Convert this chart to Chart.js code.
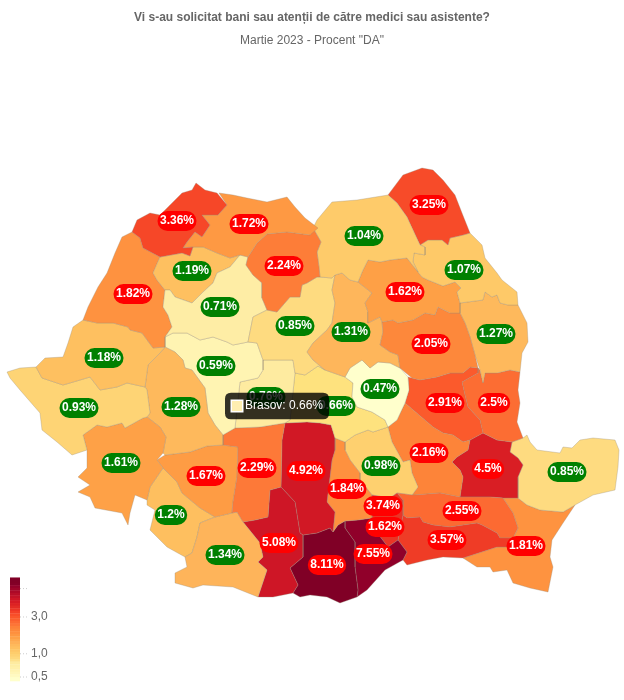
<!DOCTYPE html>
<html>
<head>
<meta charset="utf-8">
<title>Mita medicala</title>
<script src="https://cdn.jsdelivr.net/npm/chart.js@4/dist/chart.umd.min.js"></script>
<style>
  html, body { margin: 0; padding: 0; background: #fff; }
  canvas { display: block; }
</style>
</head>
<body>
<canvas id="harta" width="624" height="700"></canvas>
<script>
// County outlines, in picture units (x, y)
const outlineSatuMare = [[196,183],[205,190],[217,193],[227,205],[218,215],[202,215],[210,225],[202,237],[195,232],[187,242],[183,248],[193,247],[190,256],[182,253],[160,257],[143,248],[140,238],[132,232],[137,220],[150,213],[160,215],[170,205],[182,193],[192,190]];
const outlineMaramures = [[219,193],[233,195],[247,198],[267,202],[287,197],[295,207],[305,218],[318,228],[310,235],[287,232],[267,234],[257,243],[248,257],[240,255],[230,258],[217,253],[203,247],[193,247],[183,248],[187,242],[195,232],[202,237],[210,225],[202,215],[218,215],[227,205]];
const outlineBistrita = [[267,234],[287,232],[310,235],[313,228],[321,242],[317,252],[319,267],[320,277],[317,277],[307,283],[302,285],[300,297],[290,297],[277,312],[267,310],[262,298],[262,283],[253,275],[246,265],[248,257],[257,243]];
const outlineSuceava = [[317,220],[332,202],[357,200],[388,195],[397,203],[407,217],[413,230],[420,245],[425,247],[425,255],[414,253],[413,262],[418,272],[407,258],[390,260],[380,262],[368,260],[363,270],[358,282],[350,280],[342,273],[335,275],[332,278],[320,277],[319,267],[317,252],[321,242],[313,228]];
const outlineBotosani = [[388,195],[403,175],[422,168],[433,170],[443,180],[455,195],[462,213],[470,233],[463,235],[450,238],[448,245],[442,240],[428,240],[420,245],[413,230],[407,217],[397,203]];
const outlineIasi = [[470,233],[482,245],[485,258],[497,273],[502,280],[517,292],[518,305],[508,305],[500,303],[497,295],[492,297],[485,292],[483,300],[460,303],[457,292],[461,288],[455,282],[443,286],[428,280],[422,277],[418,272],[413,262],[414,253],[425,255],[425,247],[420,245],[428,240],[442,240],[448,245],[450,238],[463,235]];
const outlineNeamt = [[368,260],[380,262],[390,260],[407,258],[418,272],[422,277],[428,280],[443,286],[455,282],[461,288],[457,292],[460,303],[460,313],[450,313],[438,307],[435,315],[425,313],[413,320],[398,323],[393,320],[382,322],[380,317],[368,323],[368,312],[365,303],[372,293],[358,282],[363,270]];
const outlineBacau = [[382,322],[393,320],[398,323],[413,320],[425,313],[435,315],[438,307],[450,313],[460,313],[465,323],[470,337],[475,355],[478,368],[470,367],[463,373],[450,373],[437,377],[420,380],[412,378],[400,368],[398,355],[390,352],[380,345],[383,332]];
const outlineVaslui = [[460,303],[483,300],[485,292],[492,297],[497,295],[500,303],[508,305],[518,305],[527,323],[528,342],[522,353],[520,372],[510,370],[497,373],[485,373],[483,383],[480,370],[475,355],[470,337],[465,323],[460,313]];
const outlineHarghita = [[358,282],[372,293],[365,303],[368,312],[368,323],[380,317],[382,322],[383,332],[380,345],[390,352],[398,355],[400,368],[390,363],[378,362],[370,368],[362,360],[350,368],[345,377],[325,370],[313,360],[307,352],[313,343],[327,330],[332,323],[335,303],[332,290],[335,275],[342,273],[350,280]];
const outlineCovasna = [[362,360],[370,368],[378,362],[390,363],[400,368],[408,377],[409,390],[405,403],[397,420],[388,427],[385,420],[372,412],[357,407],[352,397],[353,383],[345,377],[350,368]];
const outlineBrasov = [[295,373],[305,375],[318,366],[325,370],[345,377],[353,383],[352,397],[357,407],[372,412],[385,420],[388,427],[373,432],[368,430],[355,435],[345,442],[335,438],[331,425],[320,423],[307,422],[285,423],[290,420],[293,392]];
const outlineMures = [[267,310],[277,312],[290,297],[300,297],[302,285],[307,283],[317,277],[320,277],[332,278],[335,275],[332,290],[335,303],[332,323],[327,330],[313,343],[307,352],[313,360],[325,370],[318,366],[305,375],[295,373],[293,360],[285,360],[270,360],[263,360],[257,343],[248,342],[253,317],[263,312]];
const outlineCluj = [[165,290],[170,290],[175,297],[192,303],[203,292],[213,283],[217,273],[230,267],[240,255],[248,257],[246,265],[253,275],[262,283],[262,298],[267,310],[263,312],[253,317],[248,342],[233,345],[227,342],[213,337],[200,340],[187,333],[173,333],[165,337],[172,327],[168,315],[163,307]];
const outlineSalaj = [[153,273],[160,257],[182,253],[190,256],[193,247],[203,247],[217,253],[230,258],[240,255],[230,267],[217,273],[213,283],[203,292],[192,303],[175,297],[170,290],[165,290],[157,280]];
const outlineBihor = [[132,232],[140,238],[143,248],[160,257],[153,273],[157,280],[165,290],[163,307],[168,315],[172,327],[165,337],[165,347],[153,348],[142,333],[130,330],[128,327],[113,323],[97,323],[83,320],[88,307],[98,287],[107,273],[115,253],[122,237]];
const outlineArad = [[83,320],[97,323],[113,323],[128,327],[130,330],[142,333],[153,348],[165,347],[160,353],[148,365],[145,387],[127,383],[117,387],[100,390],[90,377],[80,380],[63,385],[42,378],[36,367],[45,358],[63,357],[68,343],[73,327]];
const outlineTimis = [[7,372],[20,368],[36,367],[42,378],[63,385],[80,380],[90,377],[100,390],[117,387],[127,383],[145,387],[147,390],[150,413],[147,417],[143,418],[125,428],[122,423],[107,427],[97,425],[83,435],[87,450],[72,455],[57,442],[42,430],[40,413],[20,390],[10,378]];
const outlineCaras = [[83,435],[97,425],[107,427],[122,423],[125,428],[143,418],[147,417],[160,427],[166,437],[163,453],[157,460],[163,468],[150,487],[147,500],[135,495],[130,513],[128,525],[122,513],[95,508],[90,497],[78,492],[90,485],[78,477],[87,468],[87,450]];
const outlineHunedoara = [[148,365],[160,353],[165,347],[175,352],[183,360],[185,368],[192,370],[205,388],[208,413],[215,425],[223,435],[223,445],[207,446],[190,452],[165,455],[163,453],[166,437],[160,427],[147,417],[150,413],[147,390],[145,387]];
const outlineAlba = [[165,337],[173,333],[187,333],[200,340],[213,337],[227,342],[233,345],[248,342],[257,343],[263,360],[263,370],[258,378],[240,382],[238,400],[235,428],[223,435],[215,425],[208,413],[205,388],[192,370],[185,368],[183,360],[175,352],[165,347]];
const outlineSibiu = [[240,382],[258,378],[263,370],[263,360],[270,360],[285,360],[293,360],[295,373],[293,392],[290,420],[285,423],[260,427],[235,428],[238,400]];
const outlineValcea = [[223,435],[235,428],[260,427],[285,423],[282,440],[281,487],[270,490],[268,517],[255,520],[243,522],[237,512],[232,513],[233,502],[237,477],[238,447],[223,445]];
const outlineGorj = [[157,460],[165,455],[190,452],[207,446],[223,445],[238,447],[237,477],[233,502],[232,513],[215,517],[200,508],[182,493],[177,482],[163,468]];
const outlineDolj = [[215,517],[232,513],[237,512],[243,522],[260,543],[263,557],[258,562],[267,570],[258,597],[233,587],[203,585],[193,588],[175,583],[175,573],[187,567],[185,557],[192,553],[197,537],[200,523]];
const outlineMehedinti = [[163,468],[177,482],[182,493],[200,508],[215,517],[200,523],[197,537],[192,553],[185,557],[167,547],[150,530],[155,510],[147,505],[147,500],[150,487]];
const outlineOlt = [[243,522],[255,520],[268,517],[270,490],[281,487],[295,502],[300,533],[303,535],[303,557],[290,568],[298,585],[293,593],[273,597],[258,597],[267,570],[258,562],[263,557],[260,543]];
const outlineArges = [[285,423],[307,422],[320,423],[331,425],[335,438],[335,450],[332,460],[327,502],[335,512],[333,532],[330,528],[317,533],[303,535],[300,533],[295,502],[281,487],[282,440]];
const outlineDambovita = [[335,438],[345,442],[345,450],[350,460],[360,473],[360,480],[372,495],[372,507],[372,518],[358,520],[345,521],[338,525],[333,532],[335,512],[327,502],[332,460],[335,450]];
const outlineTeleorman = [[303,535],[317,533],[330,528],[333,532],[338,525],[345,521],[345,528],[355,542],[355,567],[358,590],[357,597],[340,603],[327,597],[310,595],[300,597],[293,593],[298,585],[290,568],[303,557]];
const outlineGiurgiu = [[345,521],[358,520],[372,518],[375,530],[388,547],[398,540],[407,552],[403,560],[385,570],[367,590],[357,597],[358,590],[355,567],[355,542],[345,528]];
const outlineIlfov = [[372,495],[390,498],[397,493],[403,500],[403,515],[398,540],[388,547],[375,530],[372,518],[372,507]];
const outlineBucuresti = [[378,502],[392,500],[396,514],[386,524],[376,516]];
const outlineCalarasi = [[407,518],[420,517],[423,522],[433,525],[450,527],[477,523],[482,525],[497,533],[500,538],[513,538],[507,547],[497,547],[463,558],[443,557],[427,560],[407,565],[403,560],[407,552],[398,540],[403,515]];
const outlineIalomita = [[397,493],[412,495],[415,495],[440,493],[460,497],[490,497],[503,498],[513,513],[518,528],[513,538],[500,538],[497,533],[482,525],[477,523],[450,527],[433,525],[423,522],[420,517],[407,518],[403,515],[403,500]];
const outlinePrahova = [[345,442],[355,435],[368,430],[373,432],[388,427],[392,442],[403,462],[410,460],[412,473],[418,487],[412,495],[397,493],[390,498],[372,495],[360,480],[360,473],[350,460],[345,450]];
const outlineBuzau = [[388,427],[397,420],[405,403],[433,427],[443,433],[453,435],[463,442],[470,440],[468,450],[457,457],[452,462],[460,470],[463,477],[460,497],[440,493],[415,495],[412,495],[418,487],[412,473],[410,460],[403,462],[392,442]];
const outlineVrancea = [[408,377],[412,378],[420,380],[437,377],[450,373],[463,373],[470,367],[478,368],[478,373],[462,382],[465,395],[468,407],[480,420],[483,433],[470,440],[463,442],[453,435],[443,433],[433,427],[405,403],[409,390]];
const outlineGalati = [[478,368],[480,370],[483,383],[485,373],[497,373],[510,370],[520,372],[518,390],[520,403],[517,422],[523,438],[512,442],[497,440],[483,433],[480,420],[468,407],[465,395],[462,382],[478,373]];
const outlineBraila = [[483,433],[497,440],[512,442],[510,452],[518,458],[523,465],[518,477],[518,498],[503,498],[490,497],[460,497],[463,477],[460,470],[452,462],[457,457],[468,450],[470,440]];
const outlineTulcea = [[512,442],[523,438],[527,435],[530,442],[537,450],[560,453],[563,447],[572,448],[580,440],[593,438],[615,440],[619,450],[618,467],[615,490],[593,495],[575,505],[563,512],[540,510],[527,505],[518,498],[518,477],[523,465],[518,458],[510,452]];
const outlineConstanta = [[503,498],[518,498],[527,505],[540,510],[563,512],[575,505],[563,523],[552,540],[550,557],[553,567],[548,592],[530,588],[513,583],[507,570],[493,572],[490,567],[477,567],[463,558],[497,547],[507,547],[513,538],[518,528],[513,513]];

const countyNames = ["Satu Mare","Maramures","Bistrita-Nasaud","Suceava","Botosani","Iasi","Neamt","Bacau","Vaslui","Harghita","Covasna","Mures","Cluj","Salaj","Bihor","Arad","Timis","Caras-Severin","Hunedoara","Alba","Sibiu","Brasov","Valcea","Gorj","Dolj","Mehedinti","Olt","Arges","Dambovita","Teleorman","Giurgiu","Ilfov","Bucuresti","Calarasi","Ialomita","Prahova","Buzau","Vrancea","Galati","Braila","Tulcea","Constanta"];
const countyValues = [3.36,1.72,2.24,1.04,3.25,1.07,1.62,2.05,1.27,1.31,0.47,0.85,0.71,1.19,1.82,1.18,0.93,1.61,1.28,0.59,0.76,0.66,2.29,1.67,1.34,1.2,5.08,4.92,1.84,8.11,7.55,3.74,1.62,3.57,2.55,0.98,2.16,2.91,2.5,4.5,0.85,1.81];
const countyOutlines = [outlineSatuMare,outlineMaramures,outlineBistrita,outlineSuceava,outlineBotosani,outlineIasi,outlineNeamt,outlineBacau,outlineVaslui,outlineHarghita,outlineCovasna,outlineMures,outlineCluj,outlineSalaj,outlineBihor,outlineArad,outlineTimis,outlineCaras,outlineHunedoara,outlineAlba,outlineSibiu,outlineBrasov,outlineValcea,outlineGorj,outlineDolj,outlineMehedinti,outlineOlt,outlineArges,outlineDambovita,outlineTeleorman,outlineGiurgiu,outlineIlfov,outlineBucuresti,outlineCalarasi,outlineIalomita,outlinePrahova,outlineBuzau,outlineVrancea,outlineGalati,outlineBraila,outlineTulcea,outlineConstanta];

// Where each value label sits
const labelX = [177,249,284,364,429,464,405,431,496,351,380,295,220,192,133,104,79,121,181,216,266,336,257,206,225,171,279,306,347,327,373,383,385,447,462,381,429,445,494,488,567,526];
const labelY = [221,224,266,236,205,270,292,344,334,332,389,326,307,271,294,358,408,463,407,366,397,406,468,476,555,515,543,471,489,565,554,506,527,540,511,466,453,403,403,469,472,546];

// Colour ramp of the map and of the scale at bottom left
const rampValues = [0.47,0.6,0.76,0.85,0.98,1.2,1.34,1.62,1.84,2.16,2.3,2.55,2.91,3.36,3.6,4.5,5.08,7.55,8.11];
const rampColors = ["#ffffcc","#fff3b0","#feeba0","#fedb80","#fed06f","#febf5f","#feb45a","#fea046","#fe913f","#fd8439","#fd7838","#fc6a32","#fb5a2c","#f64728","#ee3a26","#d91e24","#ce1626","#90002a","#800026"];
const scaleSteps = [0.46,0.48,0.52,0.56,0.6,0.65,0.7,0.76,0.82,0.88,0.95,1.02,1.1,1.19,1.28,1.38,1.49,1.61,1.74,1.88,2.03,2.19,2.36,2.55,2.75,2.97,3.2,3.46,3.73,4.03,4.35,4.7,5.07,5.47,5.9,6.37,6.88,7.42,8.01,8.65,9.33];
const scaleTicks = [0.5,1,3,7];
const scaleTickLabels = ["0,5","1,0","3,0",""];

const titleText = "Vi s-au solicitat bani sau atenții de către medici sau asistente?";
const subtitleText = 'Martie 2023 - Procent "DA"';
const hoveredCounty = "Brasov";
const redFrom = 1.62;

function hexToRgb(hex) {
    return [1, 3, 5].map(i => parseInt(hex.substr(i, 2), 16));
}

// Log interpolation between the ramp stops
function colorFor(value) {
    if (value <= rampValues[0]) return rampColors[0];
    for (let i = 1; i < rampValues.length; i++) {
        if (value <= rampValues[i]) {
            const t = Math.log(value / rampValues[i - 1]) / Math.log(rampValues[i] / rampValues[i - 1]);
            const a = hexToRgb(rampColors[i - 1]);
            const b = hexToRgb(rampColors[i]);
            const c = a.map((v, k) => Math.round(v + (b[k] - v) * t));
            return `rgb(${c[0]}, ${c[1]}, ${c[2]})`;
        }
    }
    return rampColors[rampColors.length - 1];
}

// The scale at bottom left is logarithmic: 0.5 at y=677, 33.5 units per e
function scaleY(value) {
    return 677 - 33.5 * Math.log(value / 0.5);
}

const datasets = [];

countyOutlines.forEach((outline, i) => {
    const pts = outline.map(p => ({x: p[0], y: p[1]}));
    pts.push({x: outline[0][0], y: outline[0][1]});
    datasets.push({
        label: countyNames[i],
        data: pts,
        showLine: true,
        fill: "shape",
        backgroundColor: countyNames[i] === hoveredCounty ? "#fee27e" : colorFor(countyValues[i]),
        borderColor: "rgba(150, 140, 120, 0.4)",
        borderWidth: 0.8,
        pointRadius: 0,
        pointHoverRadius: 0,
        tension: 0
    });
});

scaleSteps.forEach(step => {
    datasets.push({
        data: [{x: 10, y: scaleY(step)}, {x: 20, y: scaleY(step)}],
        showLine: true,
        borderColor: colorFor(step),
        borderWidth: 3,
        borderCapStyle: "butt",
        pointRadius: 0,
        pointHoverRadius: 0
    });
});

scaleTicks.forEach(tick => {
    datasets.push({
        data: [{x: 20, y: scaleY(tick)}, {x: 28, y: scaleY(tick)}],
        showLine: true,
        borderColor: "#cccccc",
        borderWidth: 1,
        borderDash: [1, 2],
        pointRadius: 0,
        pointHoverRadius: 0
    });
});

// Rounded value labels and the text of the scale
const labelsPlugin = {
    id: "mapLabels",
    afterDatasetsDraw(chart) {
        const {ctx, scales} = chart;
        ctx.save();
        ctx.textBaseline = "middle";
        ctx.textAlign = "center";
        countyValues.forEach((value, i) => {
            const text = value + "%";
            const cx = scales.x.getPixelForValue(labelX[i]);
            const cy = scales.y.getPixelForValue(labelY[i]);
            ctx.font = "bold 12px 'Liberation Sans'";
            const w = ctx.measureText(text).width + 5;
            ctx.fillStyle = value >= redFrom ? "#ff0000" : "#008000";
            ctx.beginPath();
            ctx.roundRect(cx - w / 2, cy - 10, w, 20, 10);
            ctx.fill();
            ctx.fillStyle = "#ffffff";
            ctx.fillText(text, cx, cy);
        });
        ctx.textAlign = "left";
        ctx.font = "12px 'Liberation Sans'";
        ctx.fillStyle = "#666666";
        scaleTicks.forEach((tick, i) => {
            ctx.fillText(scaleTickLabels[i], scales.x.getPixelForValue(31), scales.y.getPixelForValue(scaleY(tick)));
        });
        ctx.restore();
    }
};

Chart.Tooltip.positioners.hoverBox = function() {
    return {x: 225, y: 406};
};

Chart.defaults.font.family = "'Liberation Sans', Arial, sans-serif";

const chart = new Chart(document.getElementById("harta").getContext("2d"), {
    type: "scatter",
    data: {datasets: datasets},
    plugins: [labelsPlugin],
    options: {
        responsive: false,
        animation: false,
        events: [],
        devicePixelRatio: 1,
        layout: {padding: 0},
        scales: {
            x: {type: "linear", display: false, min: 0, max: 624},
            y: {type: "linear", display: false, reverse: true, min: 60, max: 700}
        },
        plugins: {
            legend: {display: false},
            title: {
                display: true,
                text: titleText,
                color: "#666666",
                font: {size: 12, weight: "bold"},
                padding: {top: 10, bottom: 5.6}
            },
            subtitle: {
                display: true,
                text: subtitleText,
                color: "#666666",
                font: {size: 12},
                padding: {top: 3.8, bottom: 11.8}
            },
            tooltip: {
                enabled: true,
                position: "hoverBox",
                xAlign: "left",
                yAlign: "center",
                caretSize: 0,
                caretPadding: 0,
                backgroundColor: "rgba(0, 0, 0, 0.8)",
                bodyColor: "#ffffff",
                bodyFont: {size: 12},
                padding: 6,
                cornerRadius: 6,
                callbacks: {
                    title: () => "",
                    label: c => `${c.dataset.label}: ${countyValues[c.datasetIndex]}%`,
                    labelColor: () => ({borderColor: "#ffffff", backgroundColor: "#feeeb0", borderWidth: 1})
                }
            }
        }
    }
});

const hovered = [{datasetIndex: countyNames.indexOf(hoveredCounty), index: 0}];
chart.tooltip.setActiveElements(hovered, {x: 225, y: 406});
chart.draw();
</script>
</body>
</html>
